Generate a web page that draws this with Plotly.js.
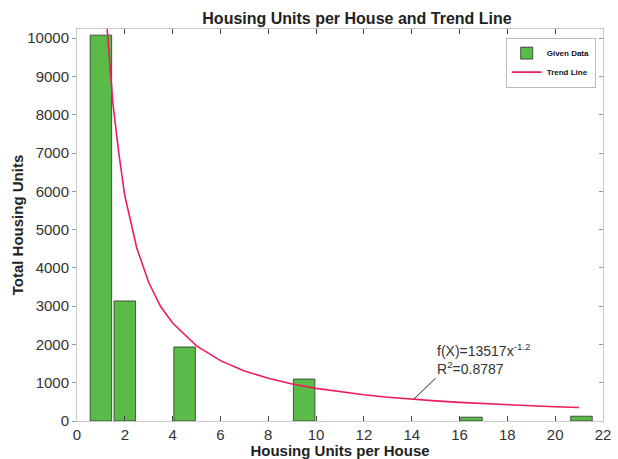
<!DOCTYPE html>
<html>
<head>
<meta charset="utf-8">
<script src="https://cdn.plot.ly/plotly-3.0.1.min.js"></script>
<style>
  html, body { margin: 0; padding: 0; background: #fff; }
  #chart { width: 618px; height: 459px; }
</style>
</head>
<body>
<div id="chart"></div>
<script>
// bar centres and heights
const unitsPerHouse = [1, 2, 4.5, 9.5, 16.5, 21.1];
const totalUnits = [10080, 3136, 1934, 1097, 100, 125];

// trend line points
const trendX = [1, 1.25, 1.5, 1.75, 2, 2.5, 3, 3.5, 4, 5, 6, 7, 8, 9, 10, 11, 12, 13, 14, 15, 16, 17, 18, 19, 20, 21];
const trendY = [13517, 10340, 8310, 6990, 5884, 4520, 3617, 2990, 2561, 1963, 1577, 1308, 1115, 965, 852, 760, 684, 622, 570, 525, 486, 452, 423, 397, 373, 352];

const yTicks = [0, 1000, 2000, 3000, 4000, 5000, 6000, 7000, 8000, 9000, 10000];
const yTickText = ["0", "1000", "2000", "3000", "4000", "5000", "6000", "7000", "8000", "9000", "10000"];
const xTicks = [0, 2, 4, 6, 8, 10, 12, 14, 16, 18, 20, 22];

const fitLabel = "f(X)=13517x<sup>-1.2</sup><br>R<sup>2</sup>=0.8787";

const FONT = "Liberation Sans, Arial, sans-serif";

const bars = {
    x: unitsPerHouse,
    y: totalUnits,
    type: "bar",
    name: "Given Data",
    width: 0.9,
    marker: {
        color: "#5bbb48",
        line: { color: "rgba(40,40,40,0.75)", width: 1 }
    }
};

const trend = {
    x: trendX,
    y: trendY,
    type: "scatter",
    mode: "lines",
    name: "Trend Line",
    line: { color: "#ec1d5c", width: 1.6 }
};

// invisible trace to carry the inside ticks on the right edge
const rightTicks = {
    x: [0], y: [0], yaxis: "y2", type: "scatter", mode: "none",
    showlegend: false, hoverinfo: "skip"
};

const layout = {
    width: 618,
    height: 459,
    margin: { l: 77, r: 15, t: 29, b: 38 },
    paper_bgcolor: "#fff",
    plot_bgcolor: "#fff",
    font: { family: FONT, color: "#333", size: 15 },
    showlegend: true,
    title: {
        text: "<b>Housing Units per House and Trend Line</b>",
        font: { family: FONT, size: 16, color: "#222" },
        x: 357 / 618, xanchor: "center",
        y: 1 - 18 / 459, yanchor: "middle"
    },
    xaxis: {
        range: [0, 22],
        tickvals: xTicks,
        ticks: "inside",
        ticklen: 5,
        tickcolor: "#444",
        showgrid: false,
        zeroline: false,
        showline: true,
        linecolor: "#c8c8c8",
        mirror: "ticks",
        tickfont: { size: 15, color: "#333" },
        title: {
            text: "<b>Housing Units per House</b>",
            font: { size: 15, color: "#222" },
            standoff: 2
        }
    },
    yaxis: {
        range: [0, 10240],
        tickvals: yTicks,
        ticktext: yTickText,
        ticks: "outside",
        ticklen: 4,
        tickcolor: "#999",
        showgrid: false,
        zeroline: false,
        showline: true,
        linecolor: "#c8c8c8",
        mirror: true,
        tickfont: { size: 15, color: "#333" },
        title: {
            text: "<b>Total Housing Units</b>",
            font: { size: 15, color: "#222" },
            standoff: 0
        }
    },
    yaxis2: {
        overlaying: "y",
        side: "right",
        range: [0, 10240],
        tickvals: yTicks,
        ticks: "inside",
        ticklen: 4,
        tickcolor: "#999",
        showticklabels: false,
        showgrid: false,
        zeroline: false,
        showline: false
    },
    legend: {
        x: 0.815, xanchor: "left",
        y: 0.978, yanchor: "top",
        bgcolor: "#fff",
        bordercolor: "#bbb",
        borderwidth: 1,
        font: { family: FONT, size: 8, color: "#111", weight: "bold" },
        itemwidth: 30,
        tracegroupgap: 0
    },
    annotations: [{
        x: 14.1, y: 575,
        xref: "x", yref: "y",
        axref: "x", ayref: "y",
        ax: 15.0, ay: 1120,
        text: fitLabel,
        showarrow: true,
        arrowhead: 0,
        arrowwidth: 1,
        arrowcolor: "#222",
        xanchor: "left",
        yanchor: "bottom",
        align: "left",
        borderpad: 0,
        font: { family: FONT, size: 14, color: "#333" }
    }]
};

Plotly.newPlot("chart", [bars, trend, rightTicks], layout, { displayModeBar: false, staticPlot: true });
</script>
</body>
</html>
